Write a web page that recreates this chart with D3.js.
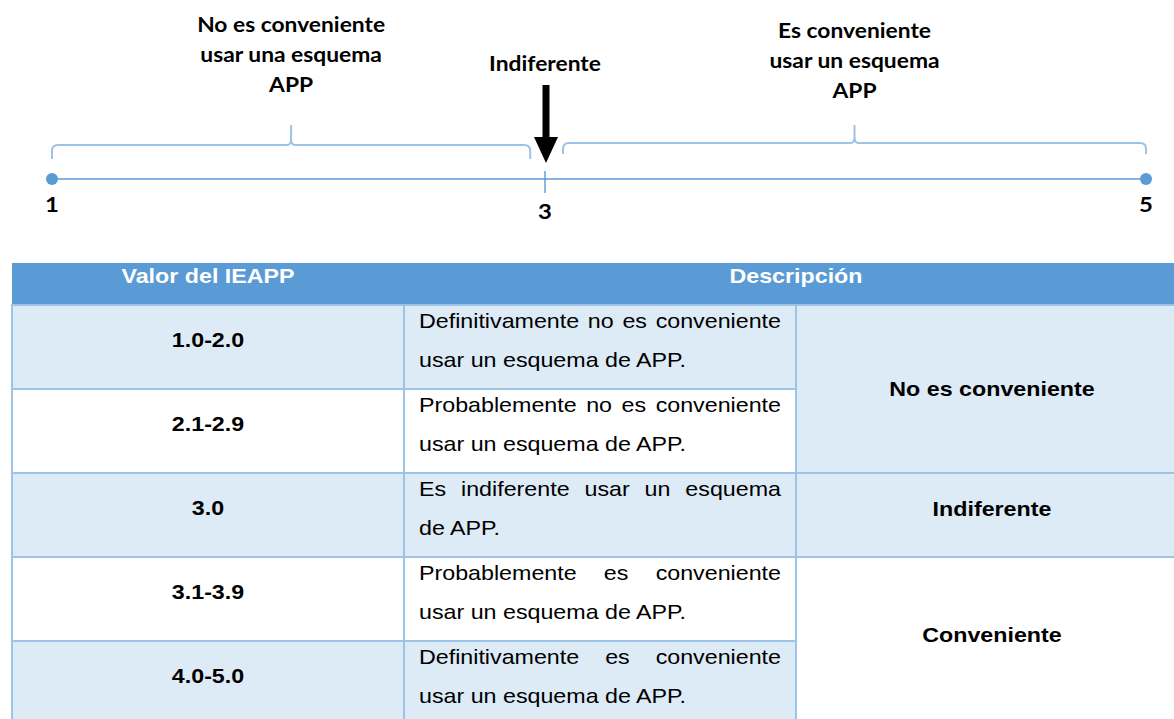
<!DOCTYPE html>
<html><head><meta charset="utf-8">
<script src="https://cdn.jsdelivr.net/npm/d3@7"></script>
<style>html,body{margin:0;padding:0;background:#fff;} svg{display:block}</style>
</head><body><svg id="chart" width="1174" height="719"></svg>
<script>
// ---- data ----
const scaleValues = [1, 3, 5];
const endPoints = [1, 5];
const indifferentValue = 3;
const braceSpans = [[1, 2.94], [3.06, 5]];
const braceTexts = [["No es conveniente", "usar una esquema", "APP"], ["Es conveniente", "usar un esquema", "APP"]];
const arrowLabel = "Indiferente";
const headers = ["Valor del IEAPP", "Descripción"];
const ranges = ["1.0-2.0", "2.1-2.9", "3.0", "3.1-3.9", "4.0-5.0"];
const descriptions = [
  ["Definitivamente no es conveniente", "usar un esquema de APP."],
  ["Probablemente no es conveniente", "usar un esquema de APP."],
  ["Es indiferente usar un esquema", "de APP."],
  ["Probablemente es conveniente", "usar un esquema de APP."],
  ["Definitivamente es conveniente", "usar un esquema de APP."]
];
const verdicts = ["No es conveniente", "Indiferente", "Conveniente"];
const verdictRows = [[0, 1], [2, 2], [3, 4]];

// ---- layout ----
const BLUE = "#5B9BD5", LIGHT = "#DDEBF7", BORDER = "#9DC3E6", BRACE = "#9DC3E6";
const SX = 1.14;
const TOPFONT = "Lato, 'Open Sans', sans-serif";
const TABFONT = "'Liberation Sans', Arial, sans-serif";
const svg = d3.select("#chart");
const x = d3.scaleLinear().domain(scaleValues).range([52, 545, 1146]);
const axisY = 179;

function sText(parent, px, py, str, o) {
  return parent.append("text")
    .attr("transform", `translate(${px},${py}) scale(${SX},1)`)
    .attr("text-anchor", o.anchor || "middle")
    .style("font-family", o.family).style("font-size", o.size + "px")
    .style("font-weight", o.weight || "normal")
    .attr("fill", o.fill || "#000").text(str);
}

// axis line
svg.append("line").attr("x1", x(scaleValues[0])).attr("x2", x(scaleValues[scaleValues.length - 1]))
  .attr("y1", axisY).attr("y2", axisY).attr("stroke", BLUE).attr("stroke-width", 1.6);
svg.selectAll("circle.end").data(endPoints).join("circle").attr("class", "end")
  .attr("cx", d => x(d)).attr("cy", axisY).attr("r", 6).attr("fill", BLUE);
svg.append("line").attr("x1", x(indifferentValue)).attr("x2", x(indifferentValue))
  .attr("y1", 171).attr("y2", 193).attr("stroke", BLUE).attr("stroke-width", 1.4);
scaleValues.forEach(v => {
  sText(svg, x(v), v === indifferentValue ? 219 : 212, String(v), {family: TOPFONT, size: 21, weight: 700});
});

// braces
const braceGeo = [{y: 145, end: 159}, {y: 143, end: 154}];
const braceTop = 125;
const braceBase = [[32, 62, 92], [38, 68, 98]];
braceSpans.forEach((s, i) => {
  const x0 = x(s[0]), x1 = x(s[1]), xm = (x0 + x1) / 2, g = braceGeo[i], r = 6;
  const p = d3.path();
  p.moveTo(x0, g.end); p.lineTo(x0, g.y + r); p.quadraticCurveTo(x0, g.y, x0 + r, g.y);
  p.lineTo(xm - 4, g.y); p.quadraticCurveTo(xm, g.y, xm, g.y - 6); p.lineTo(xm, braceTop);
  p.moveTo(xm, g.y - 6); p.quadraticCurveTo(xm, g.y, xm + 4, g.y);
  p.lineTo(x1 - r, g.y); p.quadraticCurveTo(x1, g.y, x1, g.y + r); p.lineTo(x1, g.end);
  svg.append("path").attr("d", p.toString()).attr("fill", "none").attr("stroke", BRACE).attr("stroke-width", 2);
  braceTexts[i].forEach((t, j) => sText(svg, xm, braceBase[i][j], t, {family: TOPFONT, size: 20, weight: 700}));
});

// arrow
const ax = x(indifferentValue) + 1;
svg.append("rect").attr("x", ax - 3.5).attr("y", 85).attr("width", 7).attr("height", 53).attr("fill", "#000");
svg.append("path").attr("d", `M${ax - 12},137 L${ax + 12},137 L${ax},163 Z`).attr("fill", "#000");
sText(svg, x(indifferentValue), 71, arrowLabel, {family: TOPFONT, size: 20, weight: 700});

// ---- table ----
const colX = [12, 404, 796, 1188];
const headTop = 263, rowTop = 305, rowH = 84;
const y = d3.scaleBand().domain(d3.range(ranges.length)).range([rowTop, rowTop + rowH * ranges.length]);
const FS = 20.4;
const fillOf = i => (i % 2 === 0 ? LIGHT : "#fff");

svg.append("rect").attr("x", colX[0]).attr("y", headTop).attr("width", colX[3] - colX[0]).attr("height", rowTop - headTop).attr("fill", BLUE);
sText(svg, (colX[0] + colX[1]) / 2, 282.5, headers[0], {family: TABFONT, size: FS, weight: 700, fill: "#fff"});
sText(svg, (colX[1] + colX[3]) / 2, 283, headers[1], {family: TABFONT, size: FS, weight: 700, fill: "#fff"});

const cells = svg.append("g");
ranges.forEach((r, i) => {
  [0, 1].forEach(c => {
    cells.append("rect").attr("x", colX[c]).attr("y", y(i)).attr("width", colX[c + 1] - colX[c]).attr("height", y.bandwidth())
      .attr("fill", fillOf(i)).attr("stroke", BORDER).attr("stroke-width", 2);
  });
});
verdictRows.forEach((g, k) => {
  cells.append("rect").attr("x", colX[2]).attr("y", y(g[0])).attr("width", colX[3] - colX[2])
    .attr("height", y(g[1]) + y.bandwidth() - y(g[0])).attr("fill", fillOf(g[0])).attr("stroke", BORDER).attr("stroke-width", 2);
});

// col1
ranges.forEach((r, i) => sText(svg, (colX[0] + colX[1]) / 2, y(i) + y.bandwidth() / 2, r, {family: TABFONT, size: FS, weight: 700}));

// col2 (first line justified)
const tx0 = 419, tx1 = 781;
descriptions.forEach((lines, i) => {
  // justified first line
  const t = sText(svg, tx0, y(i) + 23, "", {family: TABFONT, size: FS, anchor: "start"});
  const words = lines[0].split(" ");
  const widths = words.map(w => { t.text(w); return t.node().getComputedTextLength(); });
  t.text("");
  const avail = (tx1 - tx0) / SX;
  const gap = (avail - d3.sum(widths)) / (words.length - 1);
  let cx = 0;
  words.forEach((w, j) => { t.append("tspan").attr("x", cx).attr("y", 0).text(w); cx += widths[j] + gap; });
  sText(svg, tx0, y(i) + 62, lines[1], {family: TABFONT, size: FS, anchor: "start"});
});

// col3
const vOffset = [7, 1, 1];
verdictRows.forEach((g, k) => {
  const cy = (y(g[0]) + y(g[1]) + y.bandwidth()) / 2;
  sText(svg, (colX[2] + colX[3]) / 2, cy + vOffset[k], verdicts[k], {family: TABFONT, size: FS, weight: 700});
});
</script></body></html>
